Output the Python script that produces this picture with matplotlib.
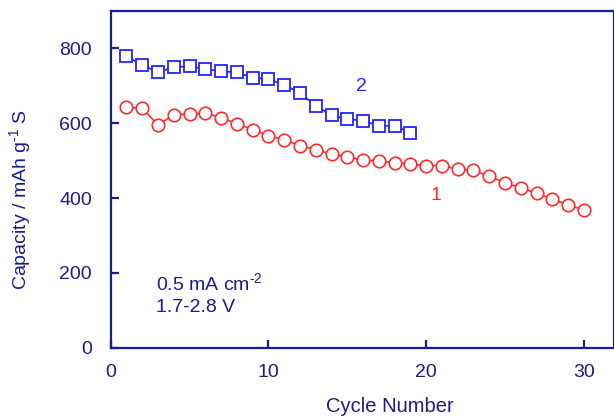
import numpy as np
import matplotlib.pyplot as plt

# -----------------------------------
# Data
# -----------------------------------
cycles_1 = list(range(1, 31))
capacity_1 = [643, 640, 595, 623, 624, 627, 615, 599, 583, 567,
              556, 540, 529, 518, 510, 502, 499, 495, 491, 487,
              487, 477, 474, 458, 441, 427, 413, 397, 382, 368]

cycles_2 = list(range(1, 20))
capacity_2 = [779, 756, 736, 750, 752, 745, 739, 736, 722, 718,
              703, 681, 647, 621, 611, 607, 593, 593, 575]

x_ticks = [0, 10, 20, 30]
y_ticks = [0, 200, 400, 600, 800]

# -----------------------------------
# Style
# -----------------------------------
navy = "#1c1c8a"
blue = "#2323ff"
red = "#ff2a2a"
plt.rcParams["font.family"] = ["Liberation Sans", "DejaVu Sans"]
plt.rcParams["mathtext.fontset"] = "custom"
plt.rcParams["mathtext.rm"] = "Liberation Sans"

L, R, B, T = 110.7, 613.5, 347.7, 11.0   # axes box in pixels
W, H = R - L, B - T

fig = plt.figure(figsize=(6.14, 4.16), dpi=100)
ax = fig.add_axes([L / 614, 1 - B / 416, W / 614, H / 416])

ax.plot(cycles_2, capacity_2, color=blue, marker="s", markersize=8.5,
        markerfacecolor="white", markeredgewidth=1.3, linewidth=1.2)
ax.plot(cycles_1, capacity_1, color=red, marker="o", markersize=9,
        markerfacecolor="white", markeredgewidth=1.2, linewidth=1.2)

ax.set_xlim(0, 31.88)
ax.set_ylim(0, 900)
ax.set_xticks(x_ticks)
ax.set_yticks(y_ticks)

for s in ax.spines.values():
    s.set_color(navy)
    s.set_linewidth(1.6)
ax.tick_params(direction="in", length=6, width=1.6, color=navy,
               labelcolor=navy, labelsize=14)
ax.tick_params(axis="x", pad=12)
ax.tick_params(axis="y", pad=13.5)

ax.set_xlabel("Cycle Number", color=navy, fontsize=14.5)
ax.set_ylabel("Capacity / mAh g$^{\\text{-}1}$ S", color=navy, fontsize=14)
ax.xaxis.set_label_coords((390 - L) / W, -(397 - B) / H)
ax.yaxis.set_label_coords(-(L - 34) / W, (B - 200) / H)

ax.text(15.9, 698, "2", color=blue, fontsize=14, ha="center", va="center")
ax.text(20.6, 408, "1", color=red, fontsize=14, ha="center", va="center")
ax.text(2.85, 172, "0.5 mA cm$^{\\text{-}2}$", color=navy, fontsize=14, ha="left", va="center")
ax.text(2.85, 107, "1.7-2.8 V", color=navy, fontsize=14, ha="left", va="center")

fig.savefig("out.png", dpi=100)
